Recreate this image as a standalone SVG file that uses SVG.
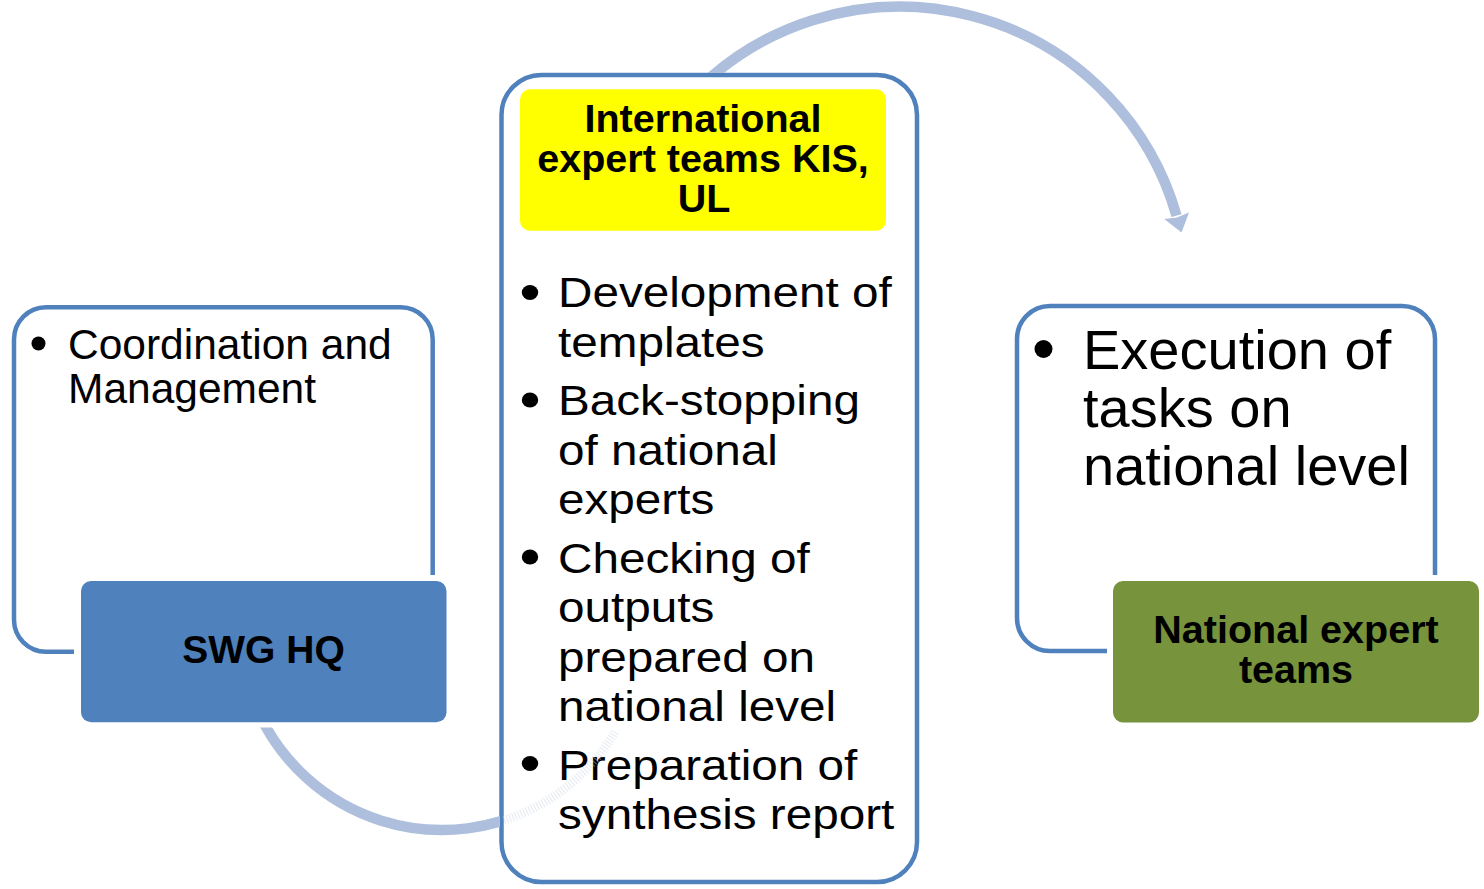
<svg xmlns="http://www.w3.org/2000/svg" width="1484" height="889" viewBox="0 0 1484 889">
<style>
.frame{fill:#fff;stroke:#4F81BD;stroke-width:4.5}
.gap{fill:#fff}
.body{font-family:"Liberation Sans",Arial,sans-serif;fill:#000}
.title{font-family:"Liberation Sans",Arial,sans-serif;font-weight:bold;fill:#000;text-anchor:middle}
.arc{fill:none;stroke:#ADBFDC;stroke-width:10.5}
.head{fill:#ADBFDC}
.ghost{fill:none;stroke:#C5D0E2;stroke-width:9;stroke-dasharray:1.2 1.8;opacity:0.4}
</style>
<defs>
<clipPath id="clipTop"><rect x="0" y="0" width="1484" height="73"/><rect x="920" y="0" width="564" height="300"/></clipPath>
<clipPath id="clipBottom"><rect x="0" y="727.5" width="500" height="161.5"/></clipPath>
</defs>
<rect x="0" y="0" width="1484" height="889" fill="#fff"/>

<g id="node-swg-hq">
<rect class="frame" x="14" y="307.3" width="418.7" height="344.4" rx="32"/>
<rect class="gap" x="74" y="575" width="378" height="153" rx="14"/>
<rect x="81" y="581" width="365.5" height="141.3" rx="10" fill="#4F81BD"/>
<circle cx="38.5" cy="343.5" r="7"/>
<text class="body" font-size="42.5"><tspan x="68" y="359">Coordination and</tspan><tspan x="68" y="403">Management</tspan></text>
<text class="title" x="263.5" y="663" font-size="39">SWG HQ</text>
</g>

<g id="node-international">
<rect class="frame" x="501.5" y="75" width="415.5" height="807" rx="40"/>
<rect x="520" y="89.3" width="366" height="141.4" rx="10" fill="#FFFF00"/>
<text class="title" font-size="39.5"><tspan x="703" y="131.7">International</tspan><tspan x="703" y="171.7">expert teams KIS,</tspan><tspan x="704" y="211.7">UL</tspan></text>
<ellipse cx="530" cy="292.5" rx="8.2" ry="7.5"/>
<ellipse cx="530" cy="400" rx="8.2" ry="7.5"/>
<ellipse cx="530" cy="557" rx="8.2" ry="7.5"/>
<ellipse cx="530" cy="763.5" rx="8.2" ry="7.5"/>
<g transform="translate(558 0) scale(1.135 1)">
<text class="body" font-size="42">
<tspan x="0" y="307.5">Development of</tspan>
<tspan x="0" y="357">templates</tspan>
<tspan x="0" y="415.5">Back-stopping</tspan>
<tspan x="0" y="465">of national</tspan>
<tspan x="0" y="514.5">experts</tspan>
<tspan x="0" y="573">Checking of</tspan>
<tspan x="0" y="622.5">outputs</tspan>
<tspan x="0" y="672">prepared on</tspan>
<tspan x="0" y="721.5">national level</tspan>
<tspan x="0" y="780">Preparation of</tspan>
<tspan x="0" y="829.5">synthesis report</tspan>
</text>
</g>
</g>

<g id="node-national">
<rect class="frame" x="1017" y="306" width="418" height="345" rx="33"/>
<rect class="gap" x="1107" y="575" width="377" height="153" rx="14"/>
<rect x="1113" y="581" width="366" height="141.5" rx="10" fill="#77933C"/>
<circle cx="1043.5" cy="349" r="9"/>
<text class="body" font-size="56"><tspan x="1083" y="369">Execution of</tspan><tspan x="1083" y="427">tasks on</tspan><tspan x="1083" y="485">national level</tspan></text>
<text class="title" font-size="39.5"><tspan x="1296" y="643.3">National expert</tspan><tspan x="1296" y="683.3">teams</tspan></text>
</g>

<g id="connectors">
<path class="arc" clip-path="url(#clipTop)" d="M 695 92 A 288 288 0 0 1 1176.5 215.6"/>
<polygon class="head" points="1181.5,232.5 1164.3,219 1177,217.5 1189,212.5"/>
<path class="arc" clip-path="url(#clipBottom)" d="M 259 713.4 A 202 202 0 0 0 543 803"/>
<path class="ghost" d="M 504 820.5 A 202 202 0 0 0 615 732"/>
</g>
</svg>
